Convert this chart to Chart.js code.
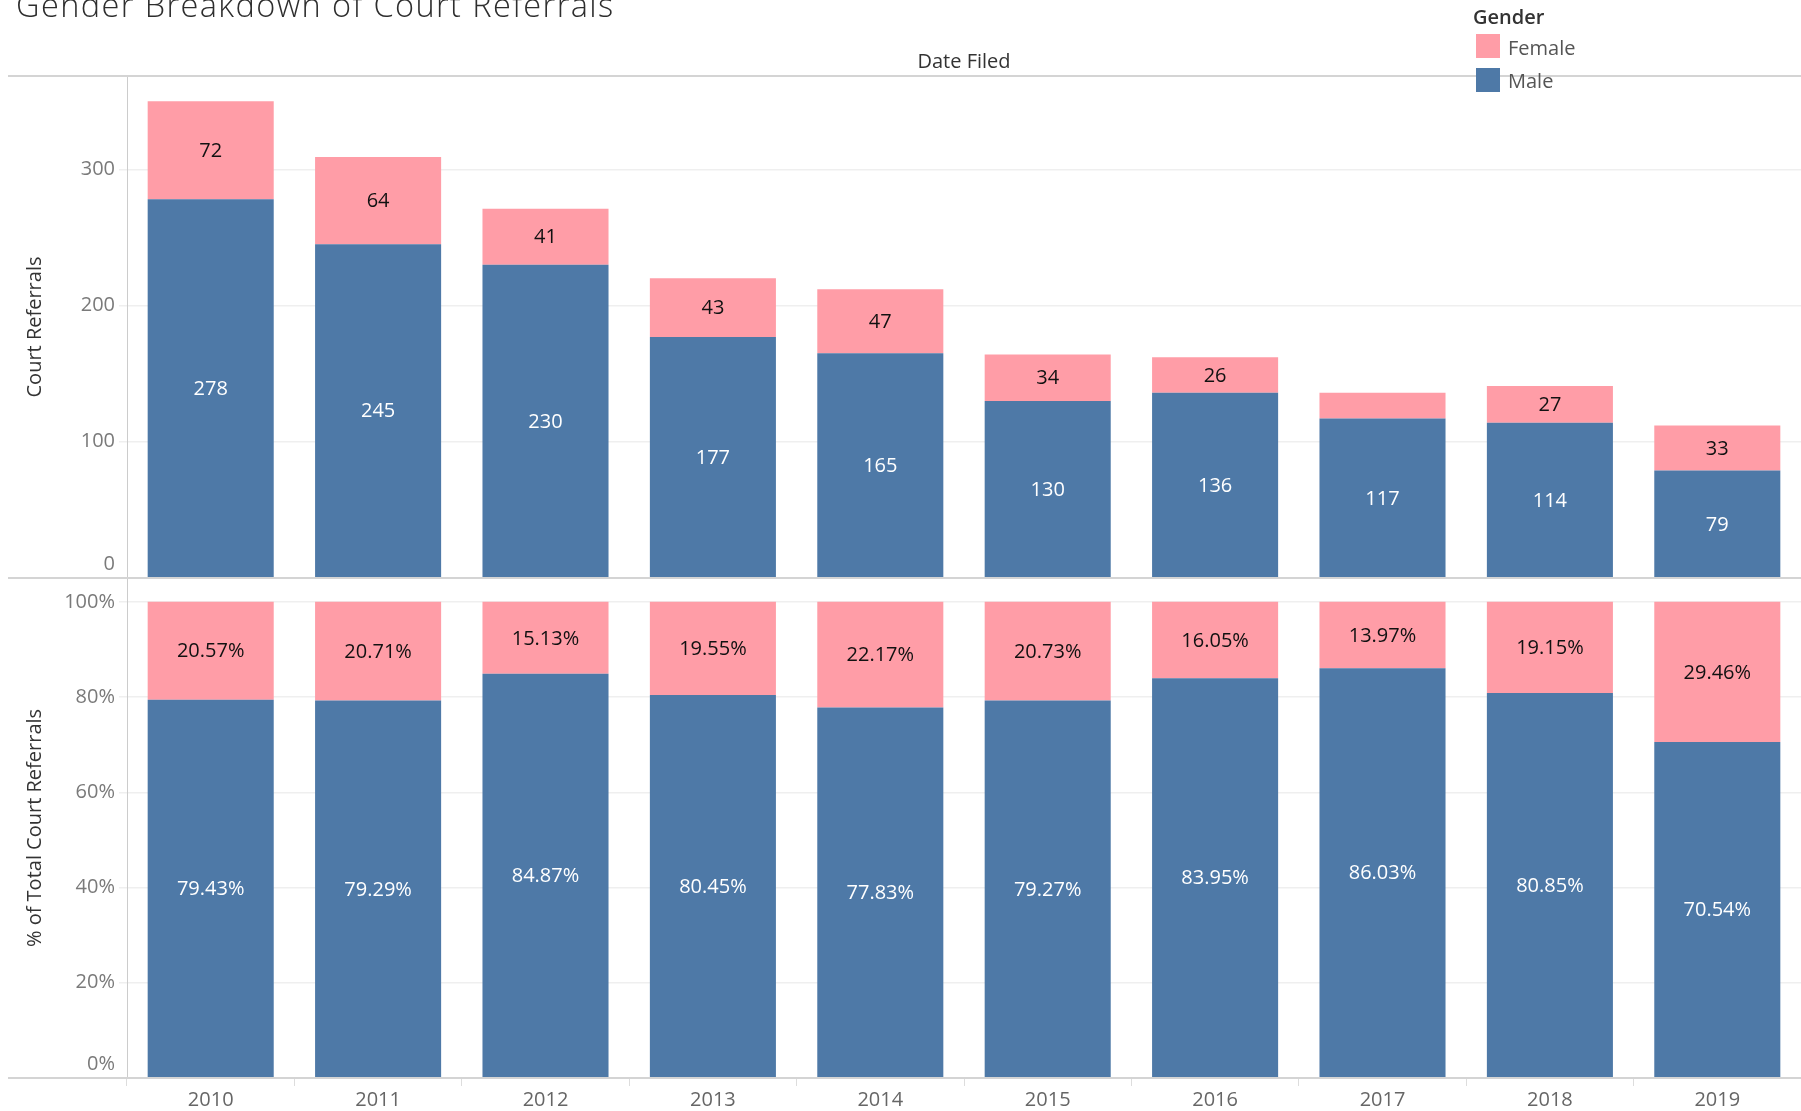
<!DOCTYPE html>
<html>
<head>
<meta charset="utf-8">
<title>Gender Breakdown of Court Referrals</title>
<script src="https://cdn.jsdelivr.net/npm/chart.js@4.4.1/dist/chart.umd.min.js"></script>
<style>
  html, body { margin: 0; padding: 0; background: #ffffff; }
  #page { position: relative; width: 1801px; height: 1111px; overflow: hidden; font-family: "Open Sans", sans-serif; }
  .abs { position: absolute; white-space: nowrap; }
  .chart-box { position: absolute; left: 0; top: 0; width: 1801px; }
  #title { left: 16px; top: -11px; font-size: 32.5px; line-height: 32px; font-weight: 300; color: #2e2e2e; letter-spacing: 1.4px; }
  #col-header { left: 127px; width: 1674px; text-align: center; top: 51px; font-size: 20px; line-height: 20px; color: #333; }
  #legend-title { left: 1473px; top: 7px; font-size: 20px; line-height: 20px; font-weight: 600; color: #333; }
  .swatch { position: absolute; left: 1476px; width: 24px; height: 24px; }
  .legend-label { left: 1508px; font-size: 20px; line-height: 20px; color: #555; }
</style>
</head>
<body>
<div id="page">
  <div class="chart-box" style="height:640px"><canvas id="count-canvas"></canvas></div>
  <div class="chart-box" style="height:1111px"><canvas id="pct-canvas"></canvas></div>

  <div id="title" class="abs">Gender Breakdown of Court Referrals</div>
  <div id="col-header" class="abs">Date Filed</div>

  <div id="legend-title" class="abs">Gender</div>
  <div class="swatch" style="top:34px;background:#ff9da7"></div>
  <div class="abs legend-label" style="top:38px">Female</div>
  <div class="swatch" style="top:68px;background:#4e79a7"></div>
  <div class="abs legend-label" style="top:71px">Male</div>
</div>

<script>
// ----- data -----
var years = ["2010", "2011", "2012", "2013", "2014", "2015", "2016", "2017", "2018", "2019"];
var maleCounts = [278, 245, 230, 177, 165, 130, 136, 117, 114, 79];
var femaleCounts = [72, 64, 41, 43, 47, 34, 26, 19, 27, 33];
var malePct = [79.43, 79.29, 84.87, 80.45, 77.83, 79.27, 83.95, 86.03, 80.85, 70.54];
var femalePct = [20.57, 20.71, 15.13, 19.55, 22.17, 20.73, 16.05, 13.97, 19.15, 29.46];

var MALE_COLOR = "#4e79a7";
var FEMALE_COLOR = "#ff9da7";

Chart.defaults.font.family = "'Open Sans', sans-serif";
Chart.defaults.animation = false;

/**
 * Writes each segment's value in the middle of the bar, like Tableau does.
 * Segments too short to hold the text get no label.
 */
var barLabels = {
  id: "barLabels",
  afterDatasetsDraw: function(chart, args, opts) {
    var ctx = chart.ctx;
    ctx.save();
    ctx.font = "20px 'Open Sans'";
    ctx.textAlign = "center";
    ctx.textBaseline = "middle";
    chart.data.datasets.forEach(function(ds, di) {
      var meta = chart.getDatasetMeta(di);
      meta.data.forEach(function(bar, i) {
        var h = Math.abs(bar.base - bar.y);
        if (h < 30) return;
        var v = ds.data[i];
        var text = opts.decimals ? v.toFixed(opts.decimals) + opts.suffix : String(v);
        ctx.fillStyle = ds.labelColor;
        ctx.fillText(text, bar.x, (bar.y + bar.base) / 2 + 1);
      });
    });
    ctx.restore();
  }
};

// Tableau-style pane borders: horizontal rules across the whole view
var paneLines = {
  id: "paneLines",
  afterDraw: function(chart) {
    var ctx = chart.ctx;
    var a = chart.chartArea;
    ctx.save();
    ctx.strokeStyle = "#d4d4d4";
    ctx.lineWidth = 2;
    [76, a.top, a.bottom].forEach(function(y) {
      ctx.beginPath();
      ctx.moveTo(8, y);
      ctx.lineTo(chart.width, y);
      ctx.stroke();
    });
    ctx.restore();
  }
};

function yAxis(max, step, title, fmt) {
  return {
    stacked: true,
    min: 0,
    max: max,
    border: { color: "#cccccc", width: 1 },
    grid: { color: "#efefef", lineWidth: 1.5, drawTicks: true, tickLength: 8 },
    ticks: {
      stepSize: step,
      includeBounds: false,
      padding: 4,
      color: "#7a7a7a",
      font: { size: 20, lineHeight: 1.4 },
      callback: function(v) {
        // push the bottom label up off the pane border
        return v === 0 ? [fmt(v), ""] : fmt(v);
      }
    },
    title: { display: true, text: title, color: "#333", font: { size: 20 }, padding: { top: 23 } },
    afterFit: function(s) { s.width = 127; }
  };
}

function makeDatasets(maleVals, femaleVals) {
  return [
    { label: "Male", data: maleVals, backgroundColor: MALE_COLOR, labelColor: "#ffffff",
      barPercentage: 0.753, categoryPercentage: 1.0 },
    { label: "Female", data: femaleVals, backgroundColor: FEMALE_COLOR, labelColor: "#111111",
      barPercentage: 0.753, categoryPercentage: 1.0 }
  ];
}

// ----- top pane: counts -----
new Chart(document.getElementById("count-canvas"), {
  type: "bar",
  data: { labels: years, datasets: makeDatasets(maleCounts, femaleCounts) },
  options: {
    responsive: true,
    maintainAspectRatio: false,
    layout: { padding: { top: 76, bottom: 62, left: 0, right: 0 } },
    plugins: {
      legend: { display: false },
      tooltip: { enabled: false },
      barLabels: { decimals: 0, suffix: "" }
    },
    scales: {
      x: { stacked: true, display: false, grid: { offset: true } },
      y: yAxis(368.5, 100, "Court Referrals", function(v) { return String(v); })
    }
  },
  plugins: [barLabels]
});

// ----- bottom pane: % of total -----
new Chart(document.getElementById("pct-canvas"), {
  type: "bar",
  data: { labels: years, datasets: makeDatasets(malePct, femalePct) },
  options: {
    responsive: true,
    maintainAspectRatio: false,
    layout: { padding: { top: 578, bottom: 0, left: 0, right: 0 } },
    plugins: {
      legend: { display: false },
      tooltip: { enabled: false },
      barLabels: { decimals: 2, suffix: "%" }
    },
    scales: {
      x: {
        stacked: true,
        border: { display: false },
        grid: { offset: true, drawOnChartArea: false, drawTicks: true, tickLength: 8, color: "#dddddd" },
        ticks: { color: "#666", font: { size: 20 }, padding: 2 },
        afterFit: function(s) { s.height = 33; }
      },
      y: yAxis(105, 20, "% of Total Court Referrals", function(v) { return v + "%"; })
    }
  },
  plugins: [barLabels, paneLines]
});
</script>
</body>
</html>
